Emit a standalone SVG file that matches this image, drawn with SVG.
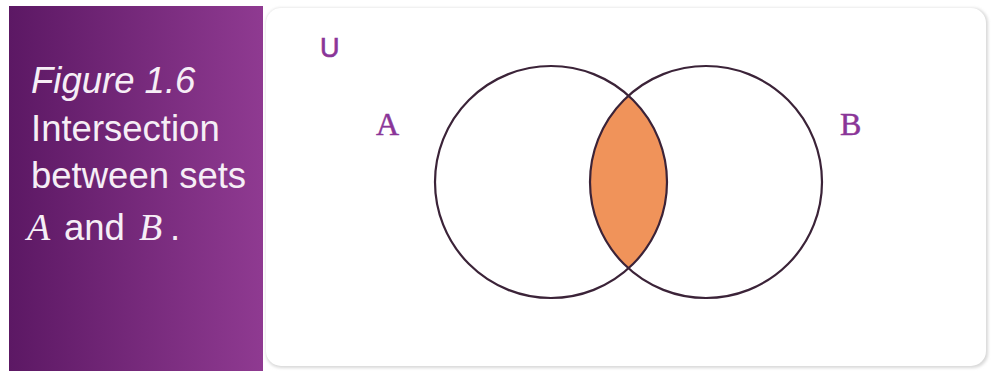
<svg xmlns="http://www.w3.org/2000/svg" width="991" height="371" viewBox="0 0 991 371">
<defs>
<linearGradient id="pg" x1="0" y1="0" x2="1" y2="0">
<stop offset="0" stop-color="#5c1864"/>
<stop offset="1" stop-color="#8f3a91"/>
</linearGradient>
<filter id="sh" x="-5%" y="-5%" width="110%" height="110%">
<feGaussianBlur stdDeviation="1.5"/>
</filter>
<clipPath id="clipA"><circle cx="551" cy="182" r="116"/></clipPath>
<style>
.cap{font-family:"Liberation Sans",Arial,sans-serif;font-size:36.5px;fill:#f6eef6}
.math{font-family:"Liberation Serif","Times New Roman",serif;font-style:italic;font-size:38px;fill:#f6eef6}
.lbl{font-family:"Liberation Serif","DejaVu Serif",serif;font-size:32px;fill:#8a3598;stroke:#8a3598;stroke-width:0.5}
.ring{fill:none;stroke:#3b2338;stroke-width:2.2}
</style>
</defs>
<rect width="991" height="371" fill="#ffffff"/>
<g id="caption-panel">
<rect x="9" y="6" width="254" height="365" fill="url(#pg)"/>
<text class="cap" x="31" y="93" font-style="italic">Figure 1.6</text>
<text class="cap" x="31" y="141">Intersection</text>
<text class="cap" x="31" y="188">between sets</text>
<text class="math" x="27" y="240">A</text>
<text class="cap" x="64" y="240">and</text>
<text class="math" x="139" y="240">B</text>
<text class="cap" x="170" y="240">.</text>
</g>
<g id="card">
<rect x="266" y="8" width="722" height="360" rx="15" fill="#d8d8d8" filter="url(#sh)"/>
<rect x="266" y="8" width="720" height="358" rx="15" fill="#ffffff"/>
</g>
<g id="intersection">
<circle cx="706" cy="182" r="116" fill="#f0935a" clip-path="url(#clipA)"/>
</g>
<g id="set-A">
<circle class="ring" cx="551" cy="182" r="116"/>
<text class="lbl" x="376" y="135">A</text>
</g>
<g id="set-B">
<circle class="ring" cx="706" cy="182" r="116"/>
<text class="lbl" x="840" y="135">B</text>
</g>
<g id="universe">
<text x="320" y="57" font-family="'Liberation Sans',Arial,sans-serif" font-size="27" fill="#8a3598" stroke="#8a3598" stroke-width="0.6">U</text>
</g>
<g id="connectors"/>
</svg>
